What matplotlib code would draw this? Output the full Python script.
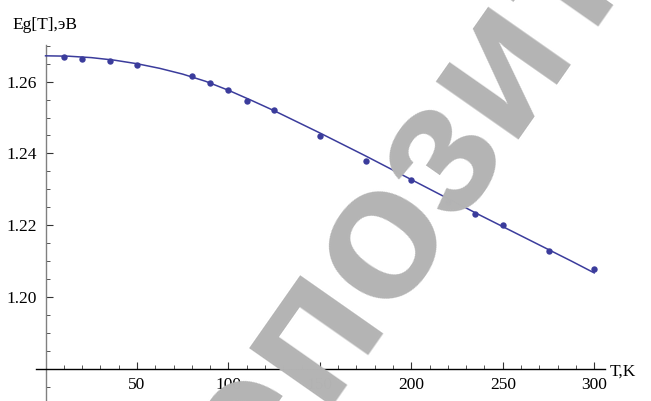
import matplotlib
matplotlib.use("Agg")
import matplotlib.pyplot as plt
from matplotlib.ticker import MultipleLocator

# measured points
T_data = [10, 20, 35, 50, 80, 90, 100, 110, 125, 150, 175, 200, 220, 235, 250, 275, 300]
Eg_data = [1.2668, 1.2663, 1.2657, 1.2647, 1.2617, 1.2596, 1.2576, 1.2546, 1.2520,
           1.2449, 1.2378, 1.2327, 1.2266, 1.2231, 1.2200, 1.2129, 1.2079]

# fitted curve
T_fit = [0, 12.5, 25, 37.5, 50, 62.5, 75, 87.5, 100, 112.5, 125, 137.5, 150,
         162.5, 175, 187.5, 200, 212.5, 225, 237.5, 250, 262.5, 275, 287.5, 300]
Eg_fit = [1.2672, 1.2671, 1.2667, 1.2660, 1.2650, 1.2637, 1.2621, 1.2601, 1.2576,
          1.2548, 1.2519, 1.2488, 1.2457, 1.2425, 1.2393, 1.2360, 1.2327, 1.2294,
          1.2261, 1.2228, 1.2196, 1.2164, 1.2132, 1.2100, 1.2067]

x_ticks = [50, 100, 150, 200, 250, 300]
y_ticks = [1.20, 1.22, 1.24, 1.26]

BLUE = "#3b3c9c"
SERIF = "Liberation Serif"

W, H = 651, 401
fig = plt.figure(figsize=(W / 100, H / 100), dpi=100)
fig.patch.set_facecolor("white")

# watermark
fig.text(544 / W, 1 - 86 / H, "репозиторий", fontsize=138, fontweight="bold",
         family="Liberation Sans", color="#b4b4b4", rotation=55,
         rotation_mode="anchor", ha="center", va="baseline", zorder=0)

ax = fig.add_axes([35.5 / W, 0, 569.7 / W, (401 - 44.7) / H])
ax.patch.set_alpha(0)
ax.set_xlim(-5.5, 306)
ax.set_ylim(1.171, 1.2703)

ax.plot(T_fit, Eg_fit, color=BLUE, lw=1.1, zorder=3)
ax.plot(T_data, Eg_data, "o", color=BLUE, ms=4.6, mec="none", zorder=4)

for s in ["top", "right"]:
    ax.spines[s].set_visible(False)
ax.spines["left"].set_position(("data", 0))
ax.spines["bottom"].set_position(("data", 1.18))
ax.spines["left"].set_color("#808080")
ax.spines["bottom"].set_color("black")
ax.spines["left"].set_linewidth(1.0)
ax.spines["bottom"].set_linewidth(1.0)

ax.set_xticks(x_ticks)
ax.set_yticks(y_ticks)
ax.set_yticklabels([f"{v:.2f}" for v in y_ticks])
ax.xaxis.set_minor_locator(MultipleLocator(10))
ax.yaxis.set_minor_locator(MultipleLocator(0.005))
ax.tick_params(which="major", direction="in", length=5, width=0.8, color="#333333",
               labelsize=12.5, pad=6)
ax.tick_params(which="minor", direction="in", length=3, width=0.7, color="#555555")
for lab in ax.get_xticklabels() + ax.get_yticklabels():
    lab.set_family(SERIF)

fig.text(12 / W, 1 - 25 / H, "Eg[T],эВ", fontsize=12.5, family=SERIF,
         ha="left", va="center")
fig.text(610 / W, 1 - 372 / H, "T,K", fontsize=12.5, family=SERIF,
         ha="left", va="center")

fig.savefig("out.png", dpi=100)
